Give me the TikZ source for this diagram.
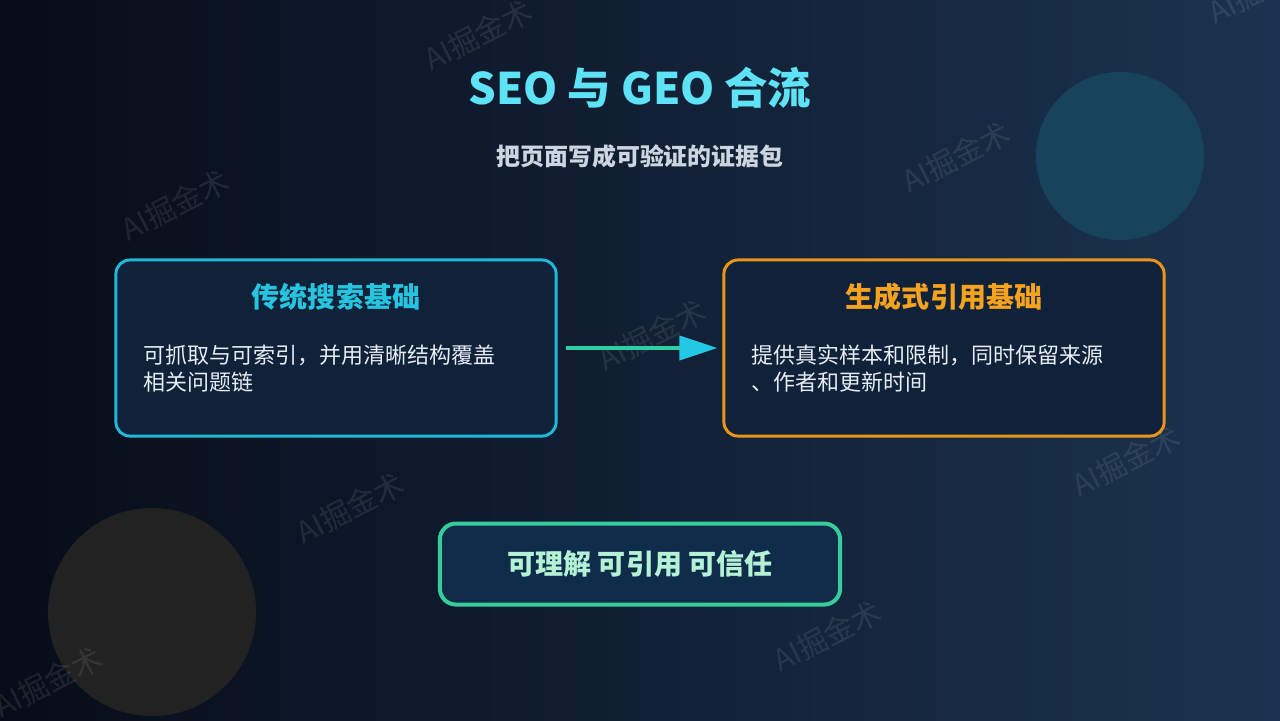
\documentclass[tikz,border=0pt]{standalone}
\usepackage{fontspec}
\setmainfont{Noto Sans CJK SC}
\usetikzlibrary{arrows.meta,positioning}

\definecolor{bgleft}{HTML}{070C18}
\definecolor{bgright}{HTML}{1B3350}
\definecolor{dottop}{HTML}{17445A}
\definecolor{dotbottom}{HTML}{222222}
\definecolor{titlecyan}{HTML}{5EE2F5}
\definecolor{subgray}{HTML}{CDD6E0}
\definecolor{seocyan}{HTML}{1FB8D6}
\definecolor{seotitle}{HTML}{26C4DF}
\definecolor{geoorange}{HTML}{E8951A}
\definecolor{geotitle}{HTML}{F5A21E}
\definecolor{mintline}{HTML}{38CC9C}
\definecolor{minttext}{HTML}{B4F2D6}
\definecolor{cardfill}{HTML}{10213A}
\definecolor{pillfill}{HTML}{0F2D4A}
\definecolor{bodytext}{HTML}{E6ECF3}
\definecolor{flowgreen}{HTML}{2DCFA2}
\definecolor{flowcyan}{HTML}{22C8E4}

\begin{document}
\begin{tikzpicture}[x=0.01cm, y=-0.01cm,
    card/.style={draw, line width=0.03cm, rounded corners=0.14cm, fill=cardfill,
        minimum width=4.4cm, minimum height=1.76cm, inner sep=0pt},
    cardtitle/.style={font=\fontsize{7.97pt}{9pt}\selectfont\bfseries},
    cardbody/.style={font=\fontsize{6.26pt}{7.68pt}\selectfont, text=bodytext,
        align=left, anchor=west, inner sep=0pt},
    watermark/.style={font=\fontsize{8.5pt}{9pt}\selectfont, text=white,
        opacity=0.09, rotate=27}]

    % Background
    \useasboundingbox (0,0) rectangle (1280,720);
    \fill[left color=bgleft, right color=bgright] (0,0) rectangle (1280,720);

    % Decorative circles
    \fill[dottop] (1120,156) circle (0.84cm);
    \fill[dotbottom] (152,612) circle (1.04cm);

    % Watermarks
    \foreach \wx/\wy in {478/35, 1262/-12, 175/205, 956/157, 652/335,
                         1126/461, 350/508, 48/682, 827/636}
        \node[watermark] at (\wx,\wy) {AI掘金术};

    % Title
    \node[font=\fontsize{12.35pt}{14pt}\selectfont\bfseries, text=titlecyan]
        (title) at (640,88) {SEO 与 GEO 合流};
    \node[font=\fontsize{6.8pt}{8pt}\selectfont\bfseries, text=subgray]
        (subtitle) at (640,156) {把页面写成可验证的证据包};

    % Cards
    \node[card, draw=seocyan] (seo) at (336,348) {};
    \node[cardtitle, text=seotitle] (seotitle) at (336,297) {传统搜索基础};
    \node[cardbody] (seobody) at (143,369)
        {可抓取与可索引，并用清晰结构覆盖\\相关问题链};

    \node[card, draw=geoorange] (geo) at (944,348) {};
    \node[cardtitle, text=geotitle] (geotitle) at (944,297) {生成式引用基础};
    \node[cardbody] (geobody) at (751,369)
        {提供真实样本和限制，同时保留来源\\、作者和更新时间};

    % Flow arrow
    \draw[flowgreen, line width=0.04cm, shorten <=0.08cm, shorten >=0.05cm,
        -{Triangle[length=0.38cm, width=0.24cm, color=flowcyan]}] (seo.east) -- (geo.west);

    % Summary pill
    \node[draw=mintline, line width=0.04cm, rounded corners=0.16cm, fill=pillfill,
        minimum width=4cm, minimum height=0.81cm, text=minttext,
        font=\fontsize{7.97pt}{9pt}\selectfont\bfseries] (summary) at (640,564)
        {可理解 可引用 可信任};
\end{tikzpicture}
\end{document}
